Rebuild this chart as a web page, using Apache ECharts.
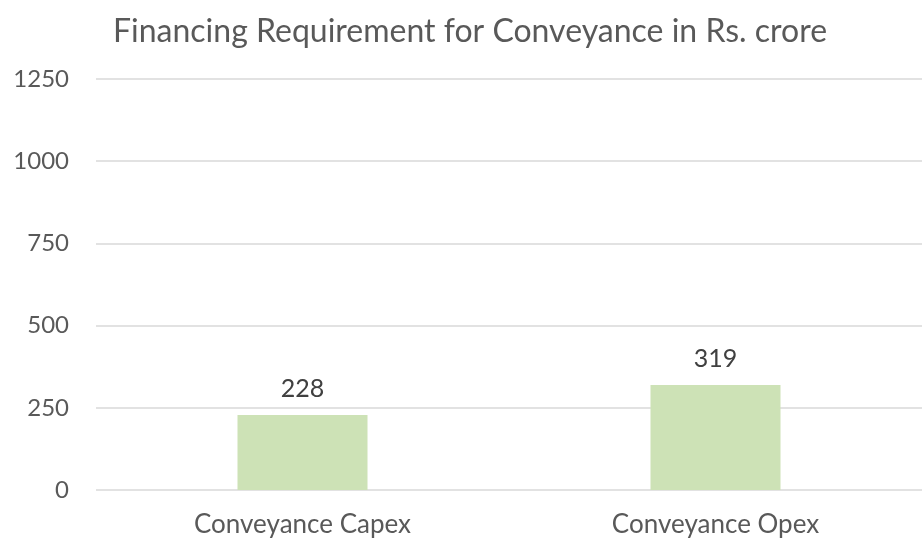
<!DOCTYPE html>
<html><head><meta charset="utf-8">
<script src="https://cdn.jsdelivr.net/npm/echarts@6/dist/echarts.min.js"></script>
<style>html,body{margin:0;padding:0;background:#fff}#c{width:922px;height:545px}</style>
</head><body><div id="c"></div>
<script>
const categories = ["Conveyance Capex", "Conveyance Opex"];
const values = [228, 319];
const yTicks = [0, 250, 500, 750, 1000, 1250];

const chart = echarts.init(document.getElementById('c'));
chart.setOption({
  animation: false,
  title: {
    text: "Financing Requirement for Conveyance in Rs. crore",
    left: 108, top: 11,
    textStyle: { fontFamily: "Lato", fontSize: 32, fontWeight: "normal", color: "#595959" }
  },
  grid: { left: 96, right: 0, top: 79, bottom: 55 },
  xAxis: {
    type: "category", data: categories,
    axisLine: { show: false }, axisTick: { show: false },
    axisLabel: { fontFamily: "Lato", fontSize: 26, color: "#595959", margin: 22 }
  },
  yAxis: {
    type: "value", min: yTicks[0], max: yTicks[yTicks.length - 1], interval: 250,
    axisLine: { show: false }, axisTick: { show: false },
    splitLine: { lineStyle: { color: "#d9d9d9", width: 1.5 } },
    axisLabel: { fontFamily: "Lato", fontSize: 24, color: "#595959", margin: 27, formatter: v => String(v) }
  },
  series: [{
    type: "bar", data: values, barWidth: 130,
    itemStyle: { color: "#cde2b6" },
    label: { show: true, position: "top", distance: 14, fontFamily: "Lato", fontSize: 25, color: "#404040" }
  }]
});
</script></body></html>
